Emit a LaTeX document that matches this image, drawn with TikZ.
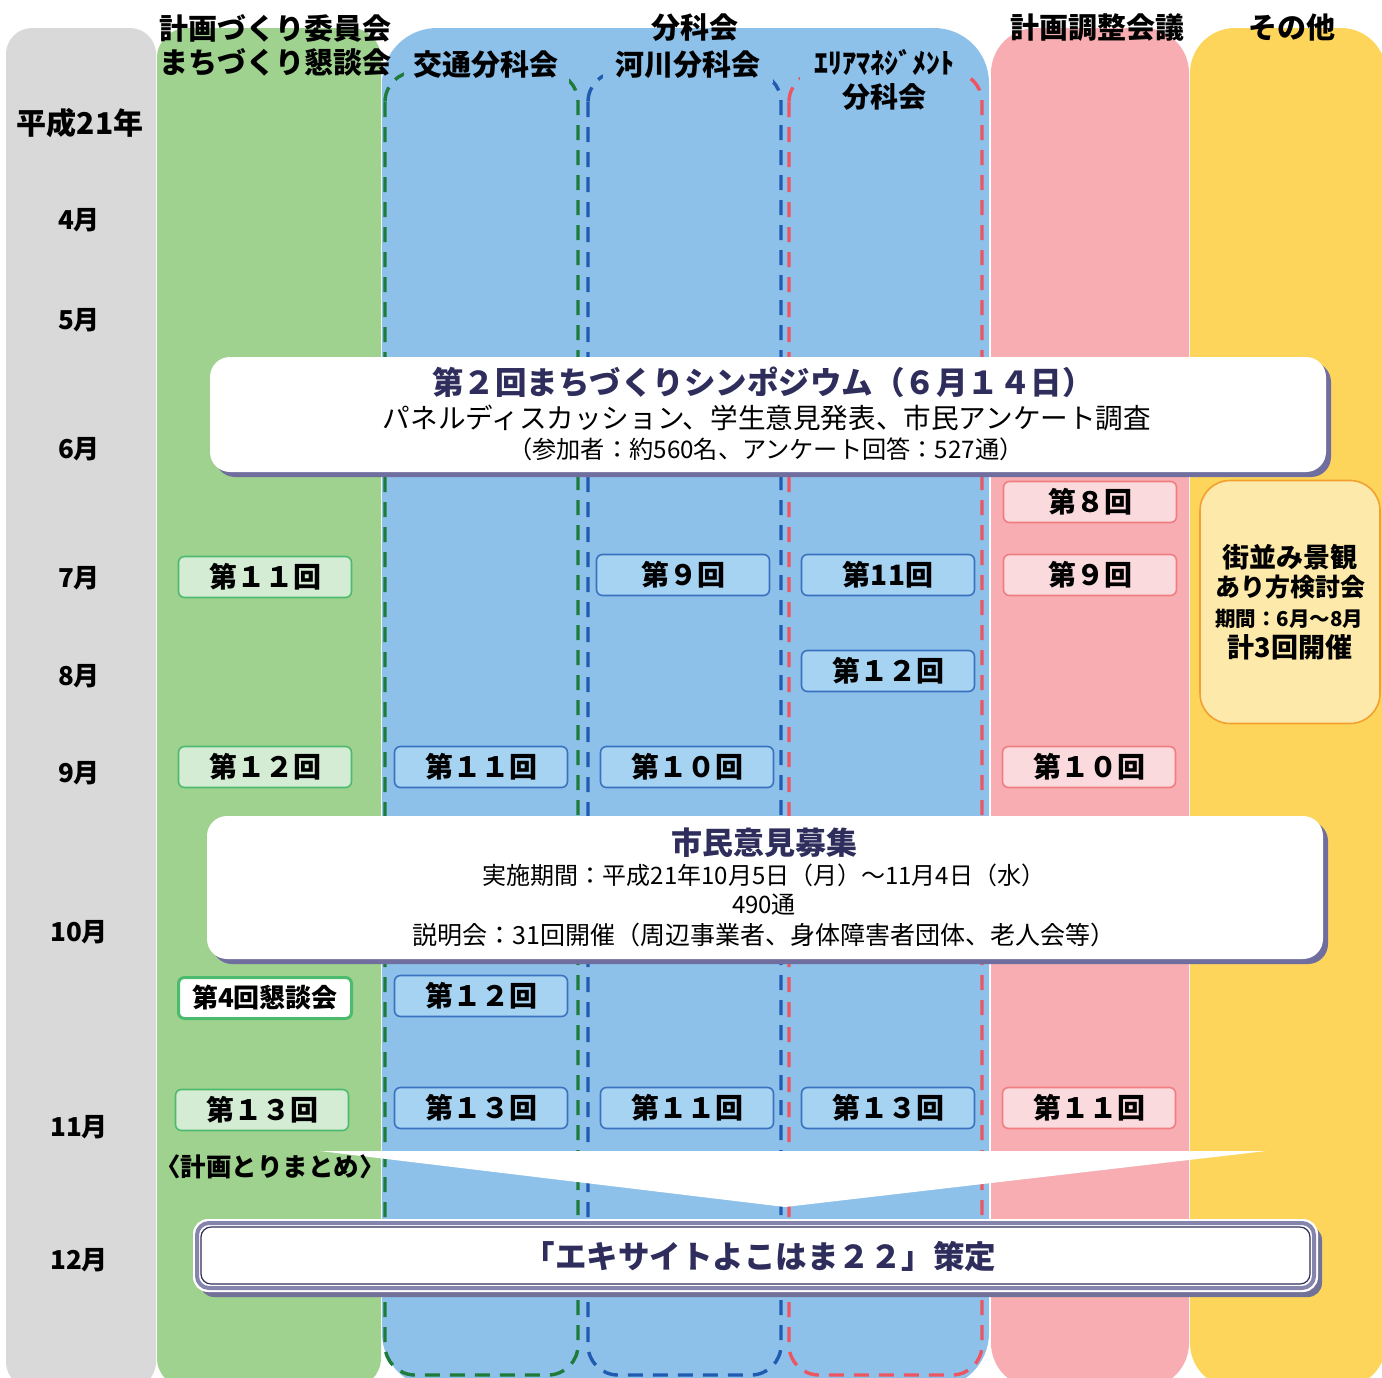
\documentclass[tikz,border=0pt]{standalone}
\usepackage{fontspec}
\setmainfont{Noto Sans CJK JP}
\newcommand{\fsz}[1]{\fontsize{#1}{#1}\selectfont}
\definecolor{cgray}{HTML}{D9D9D9}
\definecolor{cgreen}{HTML}{9FD18F}
\definecolor{cblue}{HTML}{8DC1EA}
\definecolor{cpink}{HTML}{F7ADB1}
\definecolor{cyellow}{HTML}{FDD55B}
\definecolor{dgreen}{HTML}{1E7B3A}
\definecolor{dblue}{HTML}{1F5BB0}
\definecolor{dred}{HTML}{EE5560}
\definecolor{navy}{HTML}{2E2D5C}
\definecolor{shad}{HTML}{6F6E9E}
\definecolor{gbfill}{HTML}{D5ECD4}
\definecolor{gbdraw}{HTML}{4DBB6E}
\definecolor{bbfill}{HTML}{A7D3F2}
\definecolor{bbdraw}{HTML}{3A72C0}
\definecolor{pbfill}{HTML}{FBDADD}
\definecolor{pbdraw}{HTML}{F07D80}
\definecolor{ybfill}{HTML}{FDE9A9}
\definecolor{ybdraw}{HTML}{F4A030}
\begin{document}
\begin{tikzpicture}[x=1pt,y=-1pt,
  hdr/.style={font=\bfseries\fsz{29}, inner sep=0pt, align=center},
  hdrb/.style={hdr, fill=cblue, inner sep=3pt},
  mon/.style={font=\bfseries\fsz{26}, inner sep=0pt},
  dsh/.style={line width=3.4pt, dash pattern=on 15pt off 10pt, rounded corners=30},
  sbox/.style={rounded corners=6, line width=1.6pt, minimum width=173, minimum height=41, inner sep=0pt, font=\bfseries\fsz{28}},
  grnbox/.style={sbox, draw=gbdraw, fill=gbfill},
  blubox/.style={sbox, draw=bbdraw, fill=bbfill},
  pnkbox/.style={sbox, draw=pbdraw, fill=pbfill},
  txt/.style={inner sep=0pt, align=center}
]
\useasboundingbox (0,0) rectangle (1382,1377);
% columns
\fill[cgray, rounded corners=26] (6,28) rectangle (156,1388);
\fill[cgreen, rounded corners=30] (157,28) rectangle (381,1388);
\fill[cblue, rounded corners=55] (382,28) rectangle (989,1388);
\fill[cpink, rounded corners=45] (991,28) rectangle (1189,1388);
\fill[cyellow, rounded corners=45] (1190,28) rectangle (1386,1388);
% dashed sub-columns
\draw[dsh, dgreen] (385,72) rectangle (578,1375);
\draw[dsh, dblue] (588,72) rectangle (781,1375);
\draw[dsh, dred] (789,72) rectangle (982,1375);
% headers
\node[hdr] (hplan1) at (275,28) {計画づくり委員会};
\node[hdr] (hplan2) at (275,62) {まちづくり懇談会};
\node[hdr] (hbun) at (695,28) {分科会};
\node[hdrb, minimum width=165, minimum height=36] (hkotsu) at (486,65) {交通分科会};
\node[hdrb, minimum width=170, minimum height=36] (hkasen) at (688,65) {河川分科会};
\node[hdrb, minimum width=168, minimum height=80, font=\bfseries\fsz{28}] (harea) at (884,80) {ｴﾘｱﾏﾈｼﾞﾒﾝﾄ\\[6pt]分科会};
\node[hdr] (hchosei) at (1097,28) {計画調整会議};
\node[hdr] (hother) at (1292,28) {その他};
% months
\node[mon, font=\bfseries\fsz{30}] (y21) at (80,123) {平成21年};
\node[mon] (m4) at (79,220) {4月};
\node[mon] (m5) at (79,320) {5月};
\node[mon] (m6) at (79,449) {6月};
\node[mon] (m7) at (79,578) {7月};
\node[mon] (m8) at (79,676) {8月};
\node[mon] (m9) at (79,773) {9月};
\node[mon] (m10) at (79,932) {10月};
\node[mon] (m11) at (79,1127) {11月};
\node[mon] (m12) at (79,1260) {12月};
% symposium box
\fill[shad, rounded corners=20] (215,362) rectangle (1331,477);
\fill[white, rounded corners=20] (210,357) rectangle (1326,472);
\node[txt, font=\bfseries\fsz{31.5}, text=navy] (symt) at (763,382) {第２回まちづくりシンポジウム（６月１４日）};
\node[txt, font=\fsz{27.6}] (sym2) at (767,418) {パネルディスカッション、学生意見発表、市民アンケート調査};
\node[txt, font=\fsz{24.2}] (sym3) at (766,449) {（参加者：約560名、アンケート回答：527通）};
% citizen opinion box
\fill[shad, rounded corners=20] (212,821) rectangle (1328,964);
\fill[white, rounded corners=20] (207,816) rectangle (1323,959);
\node[txt, font=\bfseries\fsz{31}, text=navy] (cit) at (764,843) {市民意見募集};
\node[txt, font=\fsz{24}] (cit2) at (764,875) {実施期間：平成21年10月5日（月）～11月4日（水）};
\node[txt, font=\fsz{24}] (cit3) at (764,905) {490通};
\node[txt, font=\fsz{25}] (cit4) at (764,935) {説明会：31回開催（周辺事業者、身体障害者団体、老人会等）};
% green column boxes
\node[grnbox] (g11) at (265,577) {第１１回};
\node[grnbox] (g12) at (265,767) {第１２回};
\node[sbox, draw=gbdraw, fill=white, line width=3pt, font=\bfseries\fsz{26}] (g4) at (265,998) {第4回懇談会};
\node[grnbox] (g13) at (262,1110) {第１３回};
% traffic
\node[blubox] (k11) at (481,767) {第１１回};
\node[blubox] (k12) at (481,996) {第１２回};
\node[blubox] (k13) at (481,1108) {第１３回};
% river
\node[blubox] (r9) at (683,575) {第９回};
\node[blubox] (r10) at (687,767) {第１０回};
\node[blubox] (r11) at (687,1108) {第１１回};
% area management
\node[blubox] (a11) at (888,575) {第11回};
\node[blubox] (a12) at (888,671) {第１２回};
\node[blubox] (a13) at (888,1108) {第１３回};
% coordination
\node[pnkbox] (p8) at (1090,502) {第８回};
\node[pnkbox] (p9) at (1090,575) {第９回};
\node[pnkbox] (p10) at (1089,767) {第１０回};
\node[pnkbox] (p11) at (1089,1108) {第１１回};
% other
\node[draw=ybdraw, fill=ybfill, line width=1.6pt, rounded corners=30, minimum width=180, minimum height=243, inner sep=0pt] (ybox) at (1290,602) {};
\node[txt, font=\bfseries\fsz{27}] (y1) at (1290,557) {街並み景観};
\node[txt, font=\bfseries\fsz{25}] (y2) at (1290,587) {あり方検討会};
\node[txt, font=\bfseries\fsz{20.5}] (y3) at (1289,619) {期間：6月～8月};
\node[txt, font=\bfseries\fsz{27}] (y4) at (1290,647) {計3回開催};
% funnel
\fill[white] (320,1151) -- (1266,1151) -- (785,1207) -- cycle;
\node[txt, font=\bfseries\fsz{25.5}, anchor=west] (torimatome) at (155,1167) {〈計画とりまとめ〉};
% final box
\fill[shad!80!gray, rounded corners=14] (200,1226) rectangle (1322,1297);
\draw[white, line width=2pt, fill=white, rounded corners=14] (194,1220) rectangle (1317,1291);
\draw[shad!85!white, line width=4pt, rounded corners=12] (197,1223) rectangle (1314,1288);
\draw[navy, line width=1.2pt, fill=white, rounded corners=10] (201,1227) rectangle (1310,1284);
\node[txt, font=\bfseries\fsz{31.5}, text=navy] (fin) at (760,1256) {「エキサイトよこはま２２」策定};
\end{tikzpicture}
\end{document}
